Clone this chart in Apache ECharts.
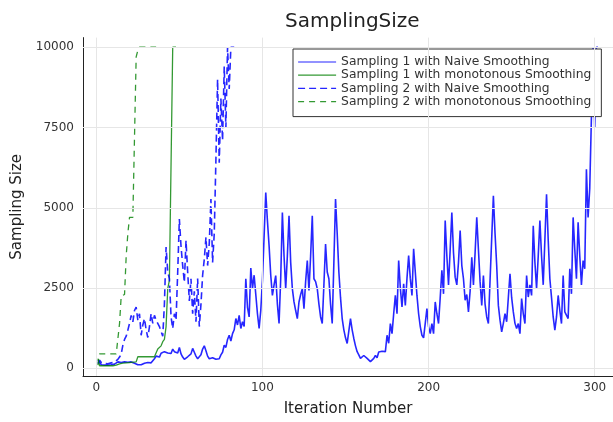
<!DOCTYPE html>
<html><head><meta charset="utf-8">
<script src="https://cdn.jsdelivr.net/npm/echarts@6/dist/echarts.min.js"></script>
<style>html,body{margin:0;padding:0;background:#fff}#c{width:613px;height:422px}</style>
</head><body><div id="c"></div>
<script>
const seriesNames = [
  'Sampling 1 with Naive Smoothing',
  'Sampling 1 with monotonous Smoothing',
  'Sampling 2 with Naive Smoothing',
  'Sampling 2 with monotonous Smoothing'
];
// values for iterations 1, 2, 3, ...
const sampling1Naive = [
  250,200,110,100,100,100,100,110,110,120,
  130,170,200,230,180,220,200,250,190,230,
  200,180,160,140,110,100,110,130,160,150,
  180,200,170,230,300,380,420,350,470,430,
  520,560,480,530,460,600,520,550,480,650,
  450,350,280,320,360,300,450,620,500,380,
  300,250,420,600,700,550,380,300,260,330,
  380,280,220,300,420,500,720,650,900,1030,
  850,1080,1200,1550,1350,1650,1240,1450,1300,2790,
  1900,1600,3120,2480,2900,2300,1700,1240,1800,2740,
  2790,5475,4600,3820,2900,2270,2600,2890,2000,1395,
  2800,4855,3500,2480,3500,4750,3300,2480,2067,1800,
  1550,2067,2300,2480,1860,2700,3357,2425,3500,4750,
  2790,2700,2480,2000,1600,1395,2600,3870,3000,2790,
  2000,1395,3300,5270,4200,3000,2200,1550,1200,950,
  775,800,1550,1200,930,700,517,420,310,330,
  400,350,310,260,207,250,310,400,330,510,
  470,530,500,520,1030,780,1395,1080,1700,2270,
  1700,3357,2500,1910,2630,1960,2800,3510,2800,2270,
  3720,3000,2270,1700,1300,1030,950,930,1860,1300,
  1080,1395,1080,2067,1700,1395,2200,3050,2320,4600,
  3500,2600,3700,4855,3600,2840,2600,3300,4290,3200,
  2790,2120,2300,1757,2400,3460,2600,3600,4700,3700,
  2700,1960,2890,2000,1600,1395,2740,2740,5370,4200,
  3200,1960,1500,1135,1400,1700,1450,2200,2940,2200,
  1757,1400,1240,1395,1080,2170,1700,1395,2890,2220,
  2600,2270,4440,3300,2480,3500,4600,3500,2600,4000,
  5420,4000,2790,2200,1600,1190,1600,2270,1800,1395,
  2890,1757,1700,1550,3100,2320,4700,3700,2790,4545,
  3500,2600,3357,3100,6200,4700,5600,7800,10000,7500,
  10000,10000
];
const sampling1Mono = [
  300,80,80,80,80,80,80,80,80,80,
  80,100,120,140,150,160,170,170,180,180,
  190,190,200,200,360,360,360,360,360,360,
  360,360,360,360,360,360,600,620,700,830,
  900,1300,2480,2740,2740,10000,10000,10000
];
const sampling2Naive = [
  150,250,180,200,150,160,140,150,170,160,
  190,200,280,350,450,720,900,1000,1190,1400,
  1650,1450,1800,1910,1500,1700,1030,1350,1550,1200,
  960,1300,1700,1400,1650,1500,1400,1300,1240,1000,
  2000,3780,3000,2790,1600,1240,1700,1500,3000,4650,
  3800,3200,2680,3980,3000,2100,2790,1700,2400,1450,
  2800,1300,2000,2900,3400,4080,3200,3900,5270,3300,
  4200,6500,9000,6400,8400,7100,9400,7500,10000,8700,
  10000,10000,10000
];
const sampling2Mono = [
  100,450,450,450,450,450,450,450,450,450,
  450,450,450,1400,2250,2250,2300,3500,4200,4700,
  4700,4700,4750,9700,9900,10000,10000,10000,10000,10000,
  10000,10000,10000,10000,10000,10000
];
const xTicks = [0, 100, 200, 300];
const yTicks = [0, 2500, 5000, 7500, 10000];

function toPairs(arr) { return arr.map((v, i) => [i + 1, v]); }

const FONT = 'DejaVu Sans';
const blue = 'rgba(0,0,255,0.85)';
const green = 'rgba(0,128,0,0.8)';

const gridLines = xTicks.map(v => ({xAxis: v})).concat(yTicks.map(v => ({yAxis: v})));

const chart = echarts.init(document.getElementById('c'), null, {renderer: 'canvas'});
chart.setOption({
  animation: false,
  backgroundColor: '#fff',
  title: {
    text: 'SamplingSize', left: 280, top: 7,
    textStyle: {fontFamily: FONT, fontSize: 20, fontWeight: 'normal', color: '#222'}
  },
  legend: {
    orient: 'vertical', left: 293, top: 49,
    backgroundColor: '#fff', borderColor: '#333', borderWidth: 1, borderRadius: 0,
    padding: [7, 10, 9, 4.5], itemWidth: 38, itemHeight: 12, itemGap: 1.2,
    itemStyle: {opacity: 0},
    lineStyle: {width: 1.2},
    textStyle: {fontFamily: FONT, fontSize: 12.3, color: '#333'},
    data: seriesNames
  },
  grid: {left: 83, top: 37.6, width: 534, height: 340.1, containLabel: false},
  xAxis: {
    type: 'value', min: -8, max: 311,
    name: 'Iteration Number', nameLocation: 'middle', nameGap: 26,
    nameTextStyle: {fontFamily: FONT, fontSize: 15, color: '#222'},
    axisLine: {show: true, onZero: false, lineStyle: {color: '#222', width: 1}},
    axisTick: {show: true, inside: true, length: 4, customValues: xTicks, lineStyle: {color: '#222'}},
    axisLabel: {customValues: xTicks, fontFamily: FONT, fontSize: 12, color: '#333', margin: 6, formatter: v => String(v)},
    splitLine: {show: false}
  },
  yAxis: {
    type: 'value', min: -239, max: 10300,
    name: 'Sampling Size', nameLocation: 'middle', nameGap: 55,
    nameTextStyle: {fontFamily: FONT, fontSize: 15, color: '#222'},
    axisLine: {show: true, onZero: false, lineStyle: {color: '#222', width: 1}},
    axisTick: {show: true, inside: true, length: 4, customValues: yTicks, lineStyle: {color: '#222'}},
    axisLabel: {customValues: yTicks, fontFamily: FONT, fontSize: 12, color: '#333', margin: 9, formatter: v => String(v)},
    splitLine: {show: false}
  },
  series: [
    {type: 'line', data: [], silent: true, z: 0,
     markLine: {silent: true, symbol: 'none', animation: false, label: {show: false},
       lineStyle: {color: '#e6e6e6', type: 'solid', width: 1}, emphasis: {disabled: true},
       data: gridLines}},
    {name: seriesNames[0], type: 'line', data: toPairs(sampling1Naive), symbol: 'none', showSymbol: false,
     lineStyle: {color: blue, width: 1.6}, itemStyle: {color: blue}, z: 1},
    {name: seriesNames[1], type: 'line', data: toPairs(sampling1Mono), symbol: 'none', showSymbol: false,
     lineStyle: {color: green, width: 1.3}, itemStyle: {color: green}, z: 2},
    {name: seriesNames[2], type: 'line', data: toPairs(sampling2Naive), symbol: 'none', showSymbol: false,
     lineStyle: {color: blue, width: 1.6, type: [7, 4]}, itemStyle: {color: blue}, z: 3},
    {name: seriesNames[3], type: 'line', data: toPairs(sampling2Mono), symbol: 'none', showSymbol: false,
     lineStyle: {color: green, width: 1.3, type: [6, 5]}, itemStyle: {color: green}, z: 4}
  ]
});
</script>
</body></html>
